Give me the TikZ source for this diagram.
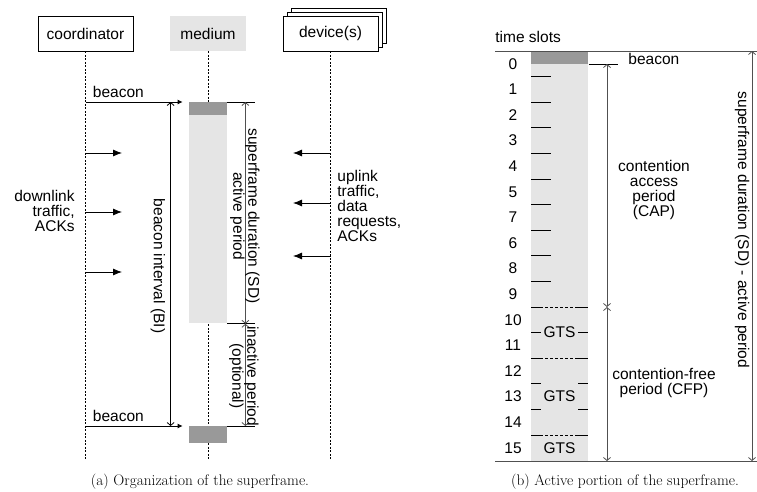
\documentclass[tikz,border=0pt]{standalone}
\usepackage{fontspec}
\setsansfont{Liberation Sans}
\usepackage{tikz}
\usetikzlibrary{shapes,arrows,arrows.meta,positioning}
\definecolor{lightslot}{HTML}{E5E5E5}
\definecolor{beaconfill}{HTML}{999999}
\definecolor{dimgray}{HTML}{505050}

\begin{document}
\begin{tikzpicture}[x=1pt, y=-1pt, line width=0.8pt,
    every node/.style={font=\sffamily\fontsize{15.5}{15}\selectfont, inner sep=0pt},
    actor/.style={draw, fill=white, minimum width=95pt, minimum height=35pt},
    lifeline/.style={dash pattern=on 2pt off 1.5pt},
    msg/.style={-{Latex[length=9pt, width=7pt]}},
    bcnmsg/.style={-{Latex[length=5pt, width=5pt]}},
    dimline/.style={{Straight Barb[length=3pt, width=7pt]}-{Straight Barb[length=3pt, width=7pt]}, draw=dimgray},
    slotbar/.style={anchor=north west, minimum width=57pt},
    gtsline/.style={dash pattern=on 12pt off 2pt on 3pt off 2pt on 3pt off 2pt on 3pt off 2pt on 3pt off 2pt on 3pt off 2pt on 3pt off 2pt on 20pt},
    caption/.style={font=\rmfamily\fontsize{15.3}{15.3}\selectfont}
]
\useasboundingbox (0,0) rectangle (757,491);

% (a) organization of the superframe
\node[actor] (coord) at (85.5,33.5) {coordinator};
\node[fill=lightslot, minimum width=76pt, minimum height=35pt] (medium) at (208,33.5) {medium};
\node[actor] (devback2) at (338.5,25.5) {};
\node[actor] (devback1) at (334.5,29.5) {};
\node[actor] (dev) at (330.5,33.5) {device(s)};

\draw[lifeline] (coord.south) -- (coord.south |- 0,460);
\draw[lifeline] (medium.south) -- (medium.south |- 0,460);
\draw[lifeline] (dev.south) -- (dev.south |- 0,460);

\node[fill=lightslot, anchor=north, minimum width=38pt, minimum height=221pt] (active) at (208,102) {};
\node[fill=beaconfill, anchor=north, minimum width=38pt, minimum height=13pt] (bcnA) at (208,102) {};
\node[fill=beaconfill, anchor=north, minimum width=38pt, minimum height=17pt] (bcnB) at (208,426) {};

\coordinate (bcntipA) at ([xshift=-6pt]bcnA.north west);
\coordinate (bcntipB) at ([xshift=-6pt]bcnB.north west);
\draw[bcnmsg] (coord.south |- bcntipA) -- (bcntipA) node[pos=0, anchor=south west, xshift=7pt, yshift=3.5pt] (bcnlabelA) {beacon};
\draw[bcnmsg] (coord.south |- bcntipB) -- (bcntipB) node[pos=0, anchor=south west, xshift=7pt, yshift=3.5pt] (bcnlabelB) {beacon};

\draw (bcnA.north east) -- +(28,0);
\draw (active.south east) -- +(28,0);
\draw (bcnB.north east) -- +(28,0);
\draw[dimline] ([xshift=18pt]bcnA.north east) -- ([xshift=18pt]active.south east);
\draw[dimline] ([xshift=18pt]active.south east) -- ([xshift=18pt]bcnB.north east);
\draw[dimline, draw=black] ([xshift=-18pt]bcnA.north west) -- ([xshift=-18pt]bcnB.north west);

\node[rotate=-90, align=center] (sdlabel) at (245,216) {superframe duration (SD)\\active period};
\node[rotate=-90, align=center] (inactlabel) at (244,376) {inactive period\\(optional)};
\node[rotate=-90] (bilabel) at (158,266) {beacon interval (BI)};

\foreach \y [count=\i] in {153,212,272} {
  \coordinate (dl\i) at (122,\y);
  \draw[msg] (coord.south |- dl\i) -- (dl\i);
}
\foreach \y [count=\i] in {153,203,256} {
  \coordinate (ul\i) at (293,\y);
  \draw[msg] (dev.south |- ul\i) -- (ul\i);
}
\node[align=right, anchor=east] (dltext) at (75,211) {downlink\\traffic,\\ACKs};
\node[align=left, anchor=west] (ultext) at (337,206) {uplink\\traffic,\\data\\requests,\\ACKs};
\node[caption] (capa) at (200,482) {(a) Organization of the superframe.};

% (b) active portion of the superframe
\node[anchor=base west] (slotstitle) at (495,42) {time slots};
\node[fill=lightslot, slotbar, minimum height=410pt] (slotcol) at (531,51) {};
\node[fill=beaconfill, slotbar, minimum height=13pt] (slotbcn) at (531,51) {};

\draw[dimgray] (495,51) -- (757,51);
\draw[dimgray] (495,461) -- (757,461);

\foreach \n [count=\k from 0] in {0,1,2,3,4,5,7,6,8,9,10,11,12,13,14,15}
  \node (slot\k) at (513,{51+25.6*\k+12.8}) {\n};
\foreach \k in {1,...,9}
  \draw (531,{51+25.6*\k}) -- +(20,0);
\foreach \k in {10,12,15}
  \draw[gtsline] (531,{51+25.6*\k}) -- +(57,0);
\foreach \k in {11,13,14} {
  \draw (531,{51+25.6*\k}) -- +(10,0);
  \draw (578,{51+25.6*\k}) -- +(10,0);
}
\node (gtsA) at (559.5,332.6) {GTS};
\node (gtsB) at (559.5,396.6) {GTS};
\node (gtsC) at (559.5,448) {GTS};

\draw (slotbcn.south east) -- +(29,0);
\node[anchor=base west] (bcnlabel) at (628,64) {beacon};
\coordinate (captop) at (607,64);
\coordinate (capend) at (607,307);
\coordinate (cfpend) at (607,461);
\coordinate (sdtop) at (752,51);
\coordinate (sdbot) at (752,461);
\draw[dimline] (captop) -- (capend);
\draw[dimline] (capend) -- (cfpend);
\draw[dimline] (sdtop) -- (sdbot);

\node[align=center] (caplabel) at (654,190) {contention\\access\\period\\(CAP)};
\node[align=center] (cfplabel) at (664,383) {contention-free\\period (CFP)};
\node[rotate=-90] (sdfull) at (742,230) {superframe duration (SD) - active period};
\node[caption] (capb) at (625,482) {(b) Active portion of the superframe.};
\end{tikzpicture}
\end{document}
